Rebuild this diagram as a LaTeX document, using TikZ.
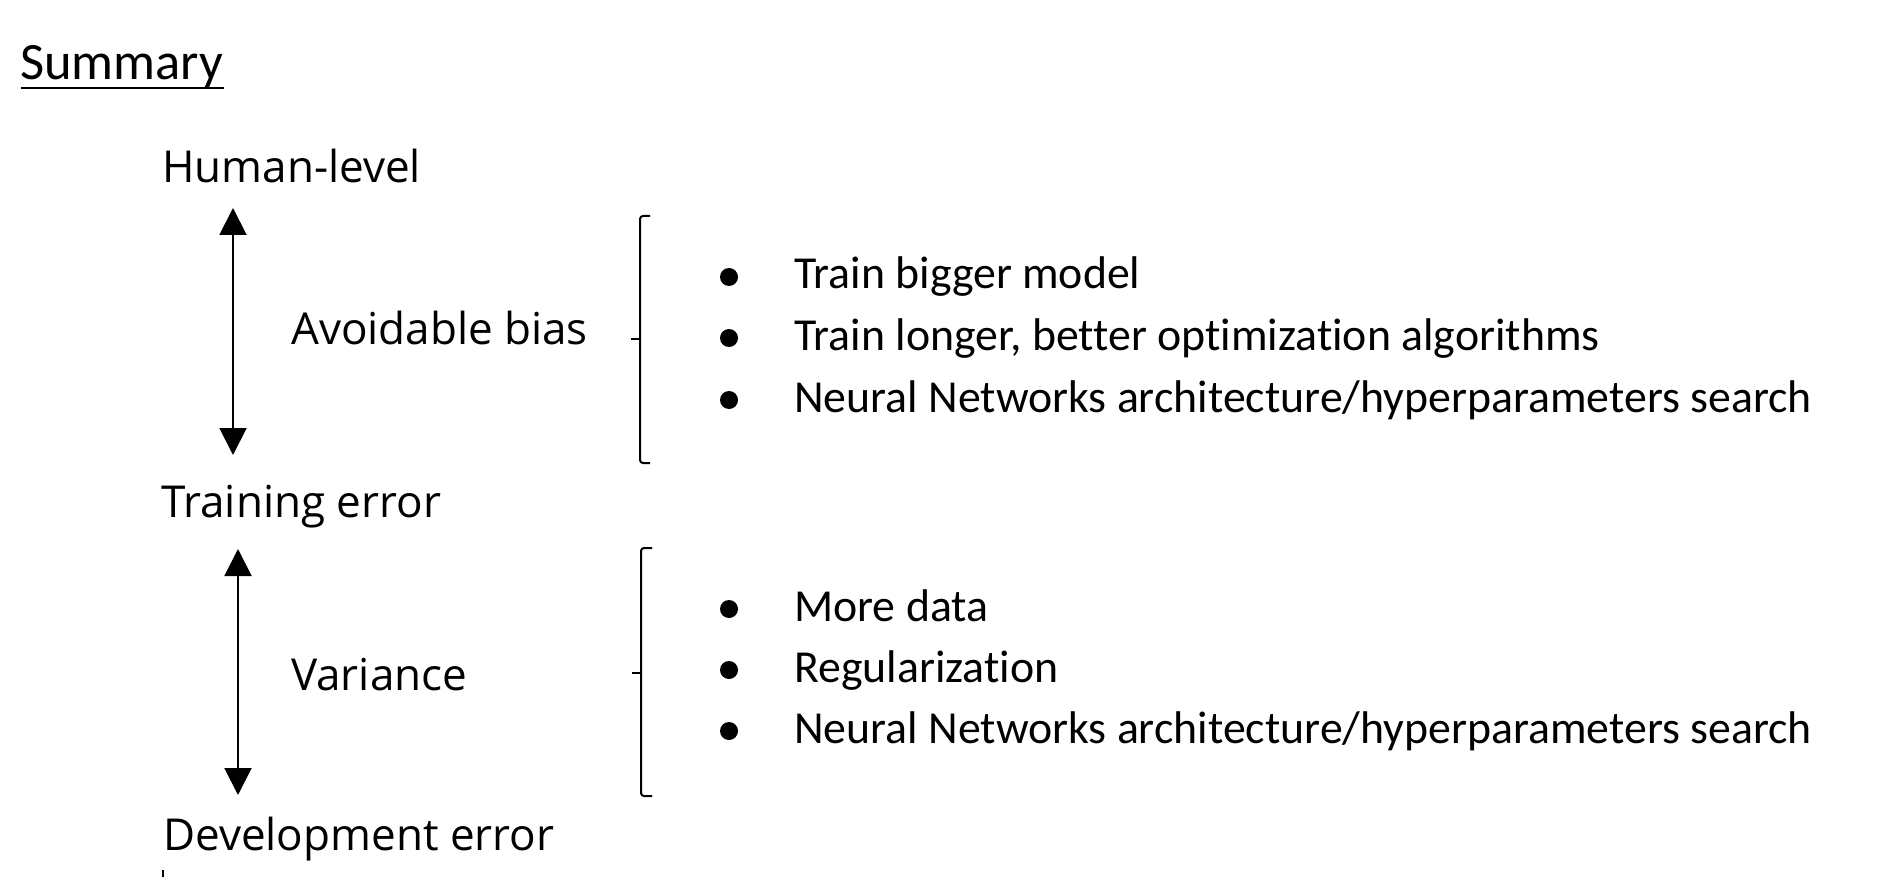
\documentclass[tikz,border=0pt]{standalone}
\usepackage{fontspec}
\setmainfont{Carlito}[RawFeature={-liga;-clig;-dlig}]
\newfontfamily\labelfont{Open Sans}
\usetikzlibrary{arrows.meta}
\tikzset{
  lbl/.style={anchor=base west, inner sep=0pt, font=\labelfont\fontsize{44}{50}\selectfont},
  item/.style={anchor=base west, inner sep=0pt, font=\fontsize{45.8}{55}\selectfont},
  ttl/.style={anchor=base west, inner sep=0pt, font=\fontsize{52.5}{60}\selectfont},
  dbl/.style={line width=2pt, {Triangle[width=27pt,length=27pt]}-{Triangle[width=27pt,length=27pt]}},
  brk/.style={line width=2pt, rounded corners=3pt},
  dot/.style={circle, fill=black, inner sep=0pt, minimum size=18pt}
}
\begin{document}
\begin{tikzpicture}[x=1pt,y=-1pt]
\useasboundingbox[fill=white] (0,0) rectangle (1903,893);
% title
\node[ttl] (title) at (20,80) {Summary};
\draw[line width=2pt] (title.base west) ++(1,8) -- ++(203,0);
% left labels
\node[lbl] (human) at (162,183) {Human-level};
\node[lbl] (bias) at (291,344) {Avoidable bias};
\node[lbl] (train) at (161,517) {Training error};
\node[lbl] (var) at (291,690) {Variance};
\node[lbl] (dev) at (163,850) {Development error};
% arrows
\coordinate (a1t) at (233,208);
\coordinate (a1b) at (233,455);
\coordinate (a2t) at (238,549);
\coordinate (a2b) at (238,795);
\draw[dbl] (a1t) -- (a1b);
\draw[dbl] (a2t) -- (a2b);
% brackets
\draw[brk] (650,216) -- (640,216) -- (640,463) -- (650,463);
\draw[line width=2pt] (631,339) -- (640,339);
\draw[brk] (652,548) -- (641,548) -- (641,796) -- (652,796);
\draw[line width=2pt] (632,673) -- (641,673);
% bullets group 1
\node[dot] (b1) at (729,277) {};
\node[dot] (b2) at (729,338) {};
\node[dot] (b3) at (729,400) {};
\node[item] (t1) at (794,289) {Train bigger model};
\node[item] (t2) at (794,350) {Train longer, better optimization algorithms};
\node[item] (t3) at (794,412) {Neural Networks architecture/hyperparameters search};
% bullets group 2
\node[dot] (b4) at (729,609) {};
\node[dot] (b5) at (729,670) {};
\node[dot] (b6) at (729,731) {};
\node[item] (t4) at (794,621) {More data};
\node[item] (t5) at (794,682) {Regularization};
\node[item] (t6) at (794,743) {Neural Networks architecture/hyperparameters search};
% small mark
\draw[line width=2pt] (163,870) -- (163,877);
\end{tikzpicture}
\end{document}
